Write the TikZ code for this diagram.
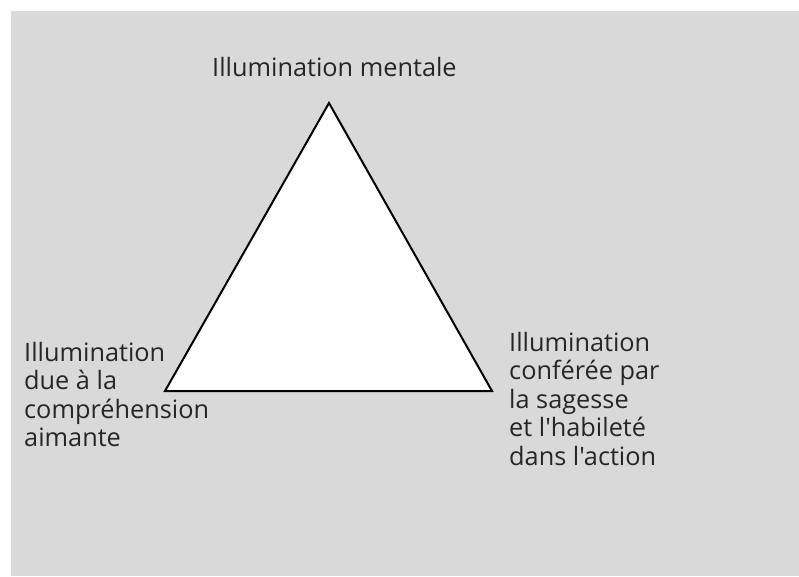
\documentclass[tikz,border=0pt]{standalone}
\usepackage{fontspec}
\setmainfont{Open Sans}[Ligatures=TeXOff]
\usepackage{xcolor}
\usetikzlibrary{positioning}
\definecolor{fond}{HTML}{D9D9D9}

\begin{document}
\begin{tikzpicture}[x=1pt, y=-1pt,
  etiquette/.style={inner sep=0pt, align=left, anchor=north west,
    font=\fontsize{25.3}{28.4}\selectfont, text=black!85}]
  \useasboundingbox (0,0) rectangle (799,576);
  \fill[fond] (11,11) rectangle (799,576);

  \coordinate (sommet) at (329,103);
  \coordinate (gauche) at (165,391);
  \coordinate (droite) at (492,391);
  \draw[line width=2pt, fill=white, line join=miter] (sommet) -- (gauche) -- (droite) -- cycle;

  \node[etiquette] (mentale) at (212,57) {Illumination mentale};
  \node[etiquette] (aimante) at (24,342) {Illumination\\due à la\\compréhension\\aimante};
  \node[etiquette] (action) at (509,332) {Illumination\\conférée par\\la sagesse\\et l'habileté\\dans l'action};
\end{tikzpicture}
\end{document}
